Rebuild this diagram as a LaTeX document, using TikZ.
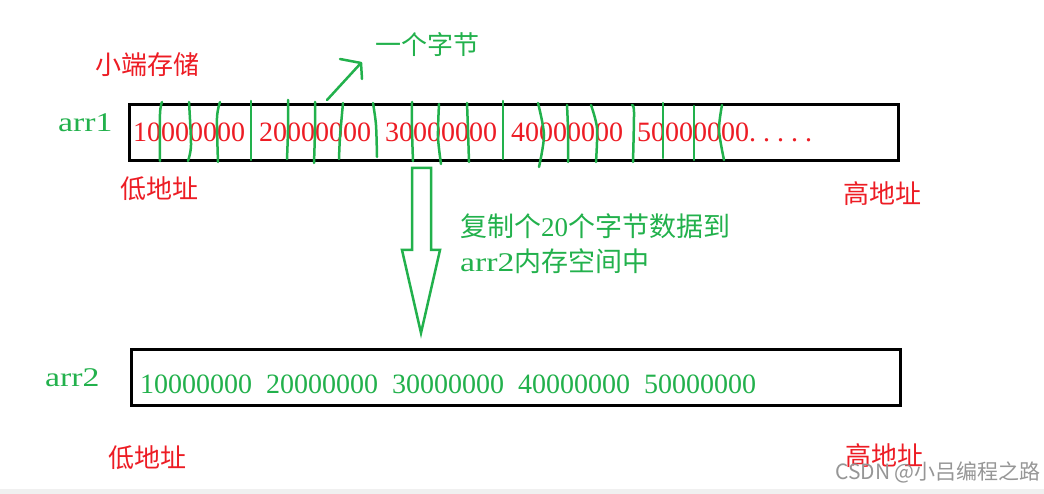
\documentclass[tikz,border=0pt]{standalone}
\usepackage{fontspec}
\setmainfont{Liberation Serif}
\newfontfamily\cjk{Noto Sans CJK SC}
\newfontfamily\widerm[FakeStretch=1.25]{Liberation Serif}
\definecolor{pgreen}{RGB}{34,177,76}
\definecolor{pred}{RGB}{237,28,36}
\definecolor{wmark}{RGB}{150,150,150}
\begin{document}
\begin{tikzpicture}[x=1pt,y=-1pt,
  membox/.style={draw=black,line width=3pt,inner sep=0,anchor=north west,minimum width=769pt,minimum height=56pt},
  lbl/.style={inner sep=0,anchor=west},
  redcn/.style={lbl,text=pred,font=\cjk\fontsize{26}{26}\selectfont},
  greencn/.style={lbl,text=pgreen,font=\cjk\fontsize{26}{26}\selectfont},
  greenmix/.style={lbl,text=pgreen,font=\fontsize{27}{27}\selectfont},
  arrlbl/.style={lbl,anchor=base west,text=pgreen,font=\widerm\fontsize{27}{27}\selectfont},
  digits/.style={inner sep=0,anchor=base west,font=\fontsize{28}{28}\selectfont},
  seg/.style={draw=pgreen,line width=2.5pt,line cap=round,line join=round}]
\useasboundingbox (0,0) rectangle (1044,494);
\fill[white] (0,0) rectangle (1044,494);
\fill[black!6] (0,489) rectangle (1044,494);

% memory boxes
\node[membox] (box1) at (128,103) {};
\node[membox] (box2) at (130,348) {};

% contents
\node[digits,text=pred] (d1) at (133,142) {10000000 \hspace{7pt}20000000 \hspace{7pt}30000000 \hspace{7pt}40000000 \hspace{7pt}50000000.\hspace{7pt}.\hspace{7pt}.\hspace{7pt}.\hspace{7pt}.};
\node[digits,text=pgreen] (d2) at (140,393) {10000000 \hspace{7pt}20000000 \hspace{7pt}30000000 \hspace{7pt}40000000 \hspace{7pt}50000000};

% byte separators
\foreach \a/\b/\c/\d/\e/\f in {
  162/102/160/114/160/161, 189/102/191/145/188/161, 220/102/217/118/218/162,
  251/101/251/130/251/160, 288/100/288/130/287/159, 315/102/315/130/314/163,
  343/103/340/137/339/159, 373/103/376/125/377/157, 412/102/412/130/413/161,
  439/104/438/137/441/164, 467/103/468/130/469/162, 503/101/503/130/503/159,
  538/103/544/135/539/167, 567/105/568/130/568/162, 591/105/597/128/596/162,
  632/105/634/112/633/162, 663/103/663/130/663/158, 694/106/694/130/694/160,
  722/105/719/130/724/160}
  \draw[seg] plot[smooth] coordinates {(\a,\b) (\c,\d) (\e,\f)};

% labels
\node[redcn] (le) at (95,65) {小端存储};
\node[greencn] (byte) at (375,45) {一个字节};
\node[arrlbl] (a1) at (58,132) {arr1};
\node[redcn] (lo1) at (120,189) {低地址};
\node[redcn] (hi1) at (843,194) {高地址};
\node[greenmix] (cp1) at (460,226) {{\cjk 复制个}20{\cjk 个字节数据到}};
\node[greenmix] (cp2) at (460,261) {{\widerm arr2}{\cjk 内存空间中}};
\node[arrlbl] (a2) at (45,386) {arr2};
\node[redcn] (lo2) at (108,458) {低地址};
\node[redcn] (hi2) at (845,456) {高地址};
\node[lbl,text=wmark,font=\cjk\fontsize{21}{21}\selectfont] (wm) at (835,472) {CSDN @小吕编程之路};

% small arrow towards "one byte"
\coordinate (pa) at (327,100);
\coordinate (pb) at (361,63);
\draw[seg] (pa) -- (pb);
\draw[seg] (340,59) -- (pb) -- (362,79);

% big hollow copy arrow
\draw[draw=pgreen,line width=2.5pt,line join=miter]
  (412,168) -- (431,168) -- (431,250) -- (440,250) -- (421,333) -- (402,250) -- (412,250) -- cycle;
\end{tikzpicture}
\end{document}
